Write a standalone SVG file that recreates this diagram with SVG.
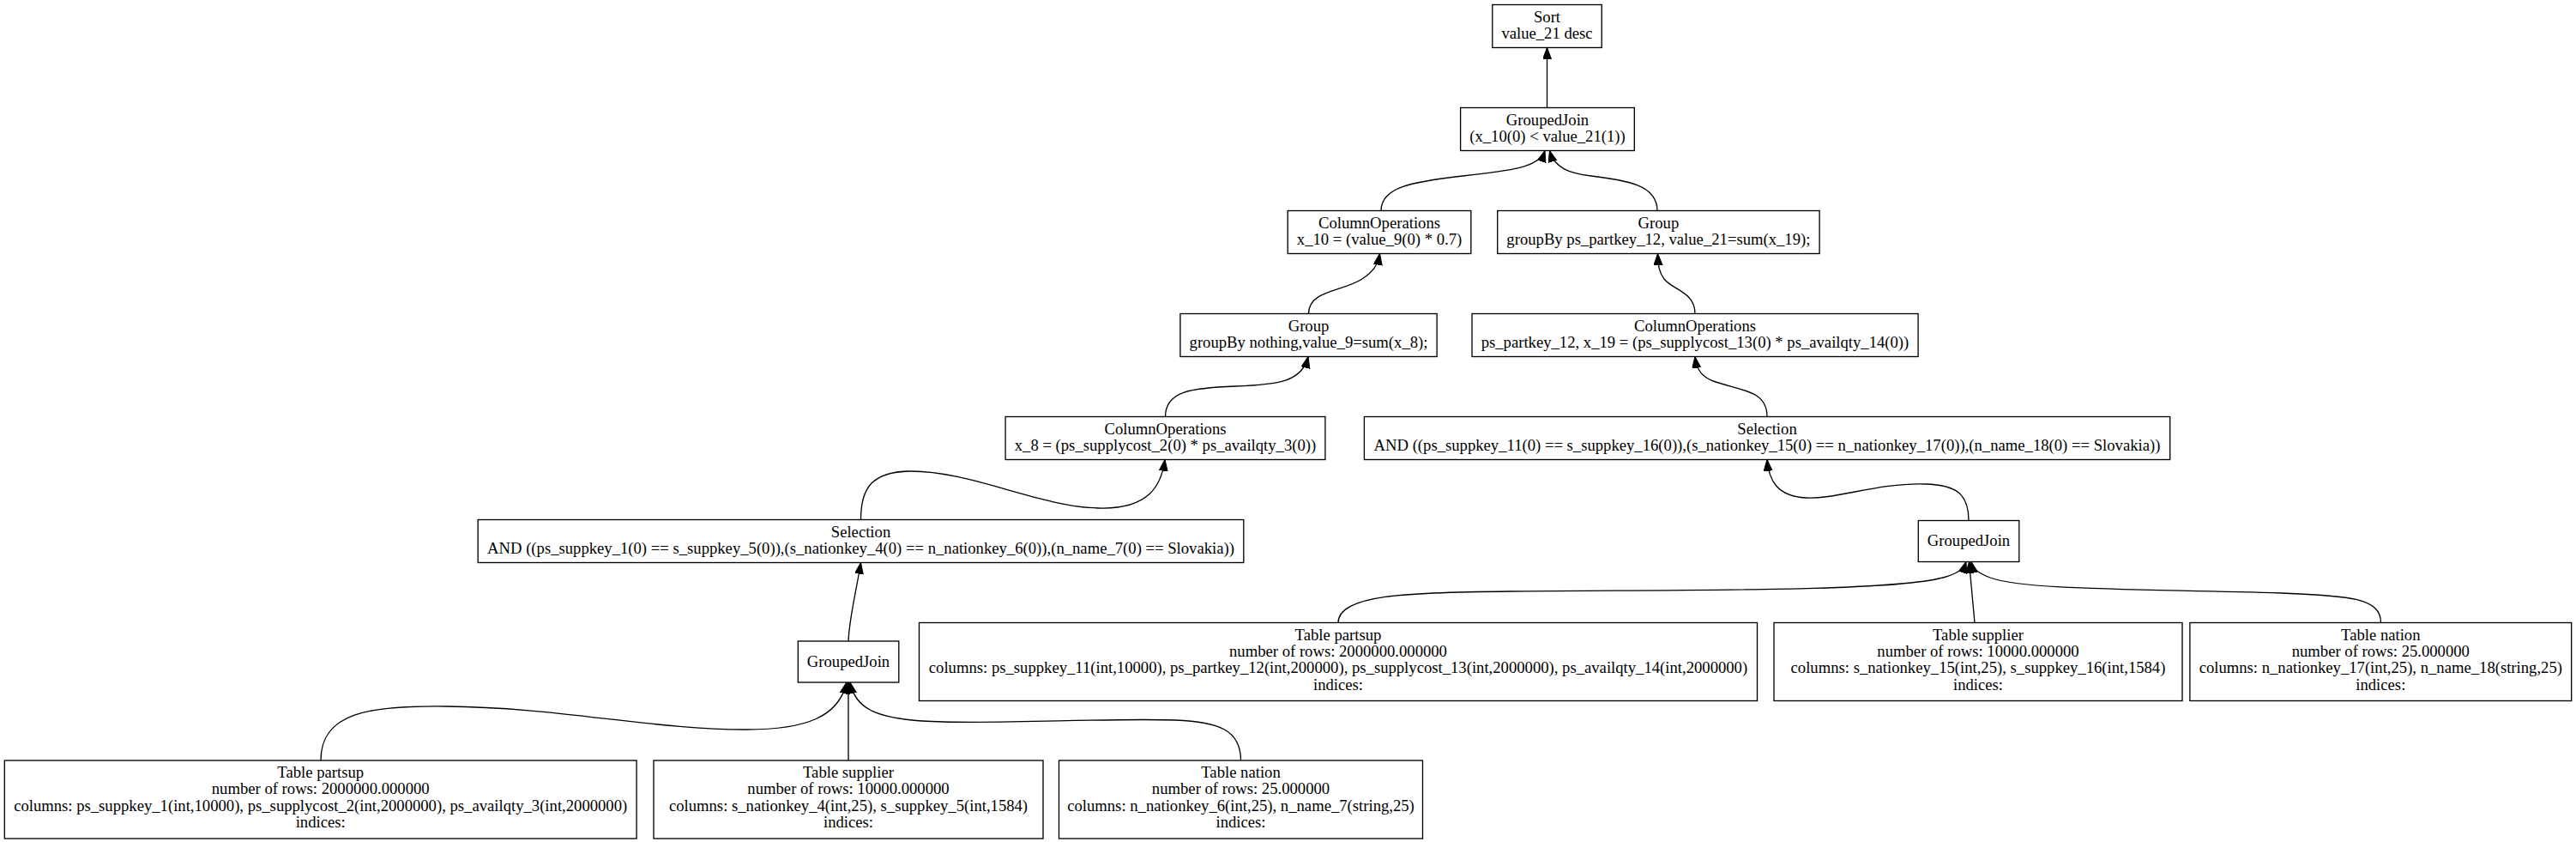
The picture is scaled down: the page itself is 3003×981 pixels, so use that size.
<svg xmlns="http://www.w3.org/2000/svg" width="3003" height="981" viewBox="0 0 3003 981">
<style>
.n rect{fill:#fff;stroke:#000;stroke-width:1.33}
.n text{font-family:"Liberation Serif","Times New Roman",serif;font-size:18.67px;text-anchor:middle;fill:#000}
.e path{fill:none;stroke:#000;stroke-width:1.33;marker-end:url(#ah)}
</style>
<defs>
<marker id="ah" markerUnits="userSpaceOnUse" markerWidth="15" markerHeight="11" refX="13.3" refY="5" orient="auto">
<path d="M0,0 L13.3,5 L0,10 z" fill="#000" stroke="#000" stroke-width="1"/>
</marker>
</defs>
<rect width="3003" height="981" fill="#fff"/>
<g id="edges" class="e">
<path d="M1803.5,125.5 L1803.5,55.5"/>
<path d="M1610,245.5 C1610,218 1645,212 1705,205 C1760,199 1795,195 1801,175.5"/>
<path d="M1932,245.5 C1932,215 1895,210 1855,205 C1830,202 1812,196 1806.5,175.5"/>
<path d="M1525.5,365.5 C1525.5,338 1565,340 1588,325 C1600,317 1606,310 1608.5,295.5"/>
<path d="M1976,365.5 C1976,340 1950,338 1940,325 C1934,317 1933,310 1932.5,295.5"/>
<path d="M1358.5,485.5 C1358.5,455 1390,452 1440,450 C1490,448 1518,445 1525,415.5"/>
<path d="M2060,485.5 C2060,455 2030,455 2000,445 C1985,440 1978,432 1976,415.5"/>
<path d="M1003.5,605.5 C1003.5,570 1015,550 1060,549 C1130,548 1210,590 1280,592 C1340,594 1354,565 1358,535.5"/>
<path d="M2295,606.5 C2295,575 2280,565 2245,564 C2190,562 2140,582 2105,580 C2072,578 2062,560 2060,535.5"/>
<path d="M989,747 C990,720 998,690 1003.5,655.5"/>
<path d="M374,886 C374,830 430,822 520,823 C650,824 760,850 870,850 C940,850 978,835 987,795"/>
<path d="M989,886 L989,795"/>
<path d="M1446.5,886 C1446.5,850 1420,841 1370,839 C1290,836 1150,845 1075,840 C1020,836 997,825 991,795"/>
<path d="M1560,725.5 C1560,693 1640,690 1760,689 C1950,687 2200,690 2265,673 C2280,669 2289,664 2292,654.5"/>
<path d="M2302,725.5 L2295.5,654.5"/>
<path d="M2775.5,725.5 C2775.5,697 2740,694 2660,691 C2500,686 2360,688 2320,673 C2308,668 2300,664 2298,654.5"/>
</g>
<g id="sort" class="n"><rect x="1739.8" y="5.5" width="127.4" height="50"/><text x="1803.5" y="25.8">Sort</text><text x="1803.5" y="45.3">value_21 desc</text></g>
<g id="groupedjoin_top" class="n"><rect x="1702.6" y="125.5" width="202.7" height="50"/><text x="1804" y="145.8">GroupedJoin</text><text x="1804" y="165.3">(x_10(0) &lt; value_21(1))</text></g>
<g id="colops_x10" class="n"><rect x="1501.2" y="245.5" width="213.6" height="50"/><text x="1608" y="265.8">ColumnOperations</text><text x="1608" y="285.3">x_10 = (value_9(0) * 0.7)</text></g>
<g id="group_right" class="n"><rect x="1745.7" y="245.5" width="375.4" height="50"/><text x="1933.4" y="265.8">Group</text><text x="1933.4" y="285.3">groupBy ps_partkey_12, value_21=sum(x_19);</text></g>
<g id="group_left" class="n"><rect x="1375.9" y="365.5" width="299.2" height="50"/><text x="1525.5" y="385.8">Group</text><text x="1525.5" y="405.3">groupBy nothing,value_9=sum(x_8);</text></g>
<g id="colops_x19" class="n"><rect x="1716" y="365.5" width="520.1" height="50"/><text x="1976" y="385.8">ColumnOperations</text><text x="1976" y="405.3">ps_partkey_12, x_19 = (ps_supplycost_13(0) * ps_availqty_14(0))</text></g>
<g id="colops_x8" class="n"><rect x="1172.1" y="485.5" width="372.8" height="50"/><text x="1358.5" y="505.8">ColumnOperations</text><text x="1358.5" y="525.3">x_8 = (ps_supplycost_2(0) * ps_availqty_3(0))</text></g>
<g id="selection_right" class="n"><rect x="1590.4" y="485.5" width="939.3" height="50"/><text x="2060" y="505.8">Selection</text><text x="2060" y="525.3">AND ((ps_suppkey_11(0) == s_suppkey_16(0)),(s_nationkey_15(0) == n_nationkey_17(0)),(n_name_18(0) == Slovakia))</text></g>
<g id="selection_left" class="n"><rect x="557.2" y="605.5" width="892.6" height="50"/><text x="1003.5" y="625.8">Selection</text><text x="1003.5" y="645.3">AND ((ps_suppkey_1(0) == s_suppkey_5(0)),(s_nationkey_4(0) == n_nationkey_6(0)),(n_name_7(0) == Slovakia))</text></g>
<g id="groupedjoin_right" class="n"><rect x="2236.3" y="606.5" width="117.5" height="48"/><text x="2295" y="636">GroupedJoin</text></g>
<g id="groupedjoin_left" class="n"><rect x="930.3" y="747" width="117.5" height="48"/><text x="989" y="776.5">GroupedJoin</text></g>
<g id="partsup_right" class="n"><rect x="1071.5" y="725.5" width="977" height="91"/><text x="1560" y="745.5">Table partsup</text><text x="1560" y="764.9">number of rows: 2000000.000000</text><text x="1560" y="784.3">columns: ps_suppkey_11(int,10000), ps_partkey_12(int,200000), ps_supplycost_13(int,2000000), ps_availqty_14(int,2000000)</text><text x="1560" y="803.7">indices:</text></g>
<g id="supplier_right" class="n"><rect x="2068" y="725.5" width="476" height="91"/><text x="2306" y="745.5">Table supplier</text><text x="2306" y="764.9">number of rows: 10000.000000</text><text x="2306" y="784.3">columns: s_nationkey_15(int,25), s_suppkey_16(int,1584)</text><text x="2306" y="803.7">indices:</text></g>
<g id="nation_right" class="n"><rect x="2552.9" y="725.5" width="444.8" height="91"/><text x="2775.3" y="745.5">Table nation</text><text x="2775.3" y="764.9">number of rows: 25.000000</text><text x="2775.3" y="784.3">columns: n_nationkey_17(int,25), n_name_18(string,25)</text><text x="2775.3" y="803.7">indices:</text></g>
<g id="partsup_left" class="n"><rect x="5.3" y="886" width="736.8" height="91"/><text x="373.7" y="906">Table partsup</text><text x="373.7" y="925.4">number of rows: 2000000.000000</text><text x="373.7" y="944.8">columns: ps_suppkey_1(int,10000), ps_supplycost_2(int,2000000), ps_availqty_3(int,2000000)</text><text x="373.7" y="964.2">indices:</text></g>
<g id="supplier_left" class="n"><rect x="762" y="886" width="454" height="91"/><text x="989" y="906">Table supplier</text><text x="989" y="925.4">number of rows: 10000.000000</text><text x="989" y="944.8">columns: s_nationkey_4(int,25), s_suppkey_5(int,1584)</text><text x="989" y="964.2">indices:</text></g>
<g id="nation_left" class="n"><rect x="1234.5" y="886" width="424" height="91"/><text x="1446.5" y="906">Table nation</text><text x="1446.5" y="925.4">number of rows: 25.000000</text><text x="1446.5" y="944.8">columns: n_nationkey_6(int,25), n_name_7(string,25)</text><text x="1446.5" y="964.2">indices:</text></g>
</svg>
